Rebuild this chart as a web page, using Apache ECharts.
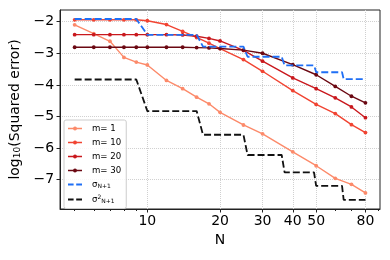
<!DOCTYPE html>
<html>
<head>
<meta charset="utf-8">
<script src="https://cdn.jsdelivr.net/npm/echarts@6/dist/echarts.min.js"></script>
<style>html,body{margin:0;padding:0;background:#fff}#c{width:390px;height:260px}</style>
</head>
<body>
<div id="c"></div>
<script>
const N = [5,6,7,8,9,10,12,14,16,18,20,25,30,40,50,60,70,80];
const m1  = [-2.10,-2.38,-2.62,-3.13,-3.28,-3.37,-3.86,-4.12,-4.39,-4.60,-4.87,-5.27,-5.55,-6.12,-6.56,-6.96,-7.15,-7.42];
const m10 = [-1.94,-1.94,-1.94,-1.94,-1.94,-1.97,-2.09,-2.31,-2.50,-2.68,-2.85,-3.20,-3.57,-4.18,-4.62,-4.91,-5.26,-5.51];
const m20 = [-2.41,-2.41,-2.41,-2.41,-2.41,-2.41,-2.41,-2.42,-2.46,-2.53,-2.61,-2.91,-3.25,-3.78,-4.12,-4.41,-4.70,-5.04];
const m30 = [-2.81,-2.81,-2.81,-2.81,-2.81,-2.81,-2.81,-2.81,-2.82,-2.83,-2.85,-2.90,-3.00,-3.36,-3.68,-4.05,-4.36,-4.57];
const stepN  = [5,9,10,16,17,25,26,36,37,49,50,64,65,80];
const sigma  = [-1.915,-1.915,-2.415,-2.415,-2.79,-2.79,-3.11,-3.11,-3.385,-3.385,-3.60,-3.60,-3.82,-3.82];
const sigma2 = [-3.83,-3.83,-4.83,-4.83,-5.58,-5.58,-6.22,-6.22,-6.77,-6.77,-7.20,-7.20,-7.64,-7.64];
const xMajor = [10,20,30,40,50,80];
const xMinor = [5,6,7,8,9,60,70,90];
const yTicks = [-2,-3,-4,-5,-6,-7];

const pairs = (xs, ys) => xs.map((x,i)=>[x, ys[i]]);
const FONT = 'DejaVu Sans';
const chart = echarts.init(document.getElementById('c'), null, {renderer:'canvas'});
const lineS = (name, ys, color) => ({
  name, type:'line', data: pairs(N, ys), symbol:'circle', symbolSize:3.8,
  lineStyle:{color, width:1.4}, itemStyle:{color}, animation:false, z:3
});
const anchors = 'M0,0h0.01v0.01h-0.01z M13.99,7.99h0.01v0.01h-0.01z ';
const dashIcon = 'path://' + anchors + 'M0,3.1h5.6v1.8h-5.6z M8.2,3.1h5.8v1.8h-5.8z';
const markIcon = 'path://' + anchors + 'M0,3.35h5.2v1.3h-5.2z M8.8,3.35h5.2v1.3h-5.2z M5,4a2,2 0 1,1 4,0a2,2 0 1,1 -4,0z';
chart.setOption({
  animation:false,
  grid:{left:60, right:10, top:10, bottom:51, show:true, borderColor:'#222', borderWidth:1, backgroundColor:'transparent'},
  xAxis:[{
    type:'log', logBase:10, min:4.35, max:91.9,
    name:'N', nameLocation:'middle', nameGap:23,
    nameTextStyle:{fontFamily:FONT, fontSize:14, color:'#000'},
    axisLine:{show:true, lineStyle:{color:'#222'}},
    axisTick:{show:true, length:3.5, lineStyle:{color:'#222'}, customValues:xMajor},
    axisLabel:{fontFamily:FONT, fontSize:14, color:'#000', margin:5, customValues:xMajor},
    splitLine:{show:true, lineStyle:{color:'#d0d0d0', type:'dotted', width:1}},
    minorTick:{show:false}
  },{
    type:'log', logBase:10, min:4.35, max:91.9, gridIndex:0, position:'bottom',
    axisLine:{show:false},
    axisTick:{show:true, length:2, lineStyle:{color:'#222'}, customValues:xMinor},
    axisLabel:{show:false},
    splitLine:{show:false}
  }],
  yAxis:{
    type:'value', min:-7.93, max:-1.63,
    name:'log{sub|10}(Squared error)', nameLocation:'middle', nameGap:28, nameRotate:90,
    nameTextStyle:{fontFamily:FONT, fontSize:14, color:'#000',
      rich:{sub:{fontFamily:FONT, fontSize:9, color:'#000', padding:[6,0,0,0]}}},
    axisLine:{show:true, lineStyle:{color:'#222'}},
    axisTick:{show:true, length:3.5, lineStyle:{color:'#222'}, customValues:yTicks},
    axisLabel:{fontFamily:FONT, fontSize:14, color:'#000', margin:6, customValues:yTicks,
      formatter:v=>String(v).replace('-', '\u2212')},
    splitLine:{show:true, lineStyle:{color:'#d0d0d0', type:'dotted', width:1}}
  },
  legend:{
    left:64, top:120, orient:'vertical', itemWidth:14, itemHeight:8, itemGap:5,
    padding:[4,5,4,4], backgroundColor:'rgba(255,255,255,0.85)', borderColor:'#ccc', borderWidth:1, borderRadius:2,
    textStyle:{fontFamily:FONT, fontSize:8.6, color:'#000', padding:[0,0,0,5],
      rich:{sub:{fontFamily:FONT, fontSize:6, color:'#000', padding:[4,0,0,0]},
            sup:{fontFamily:FONT, fontSize:6, color:'#000', padding:[0,0,4,0]}}},
    formatter:name=>{
      if(name==='sig') return 'σ{sub|N+1}';
      if(name==='sig2') return 'σ{sup|2}{sub|N+1}';
      return name;
    },
    data:[
      {name:'m= 1', icon:markIcon, itemStyle:{color:'#fc8a6a'}},
      {name:'m= 10', icon:markIcon, itemStyle:{color:'#f14432'}},
      {name:'m= 20', icon:markIcon, itemStyle:{color:'#c9181d'}},
      {name:'m= 30', icon:markIcon, itemStyle:{color:'#6b0812'}},
      {name:'sig', icon:dashIcon, itemStyle:{color:'#1f6ff5'}},
      {name:'sig2', icon:dashIcon, itemStyle:{color:'#111'}}]
  },
  series:[
    lineS('m= 1', m1, '#fc8a6a'),
    lineS('m= 10', m10, '#f14432'),
    lineS('m= 20', m20, '#c9181d'),
    lineS('m= 30', m30, '#6b0812'),
    {name:'sig', type:'line', data:pairs(stepN, sigma), symbol:'none', z:4,
      lineStyle:{color:'#1f6ff5', width:1.8, type:[7,3]}, itemStyle:{color:'#1f6ff5'}},
    {name:'sig2', type:'line', data:pairs(stepN, sigma2), symbol:'none', z:4,
      lineStyle:{color:'#111', width:1.8, type:[7,3]}, itemStyle:{color:'#111'}}
  ]
});
</script>
</body>
</html>
